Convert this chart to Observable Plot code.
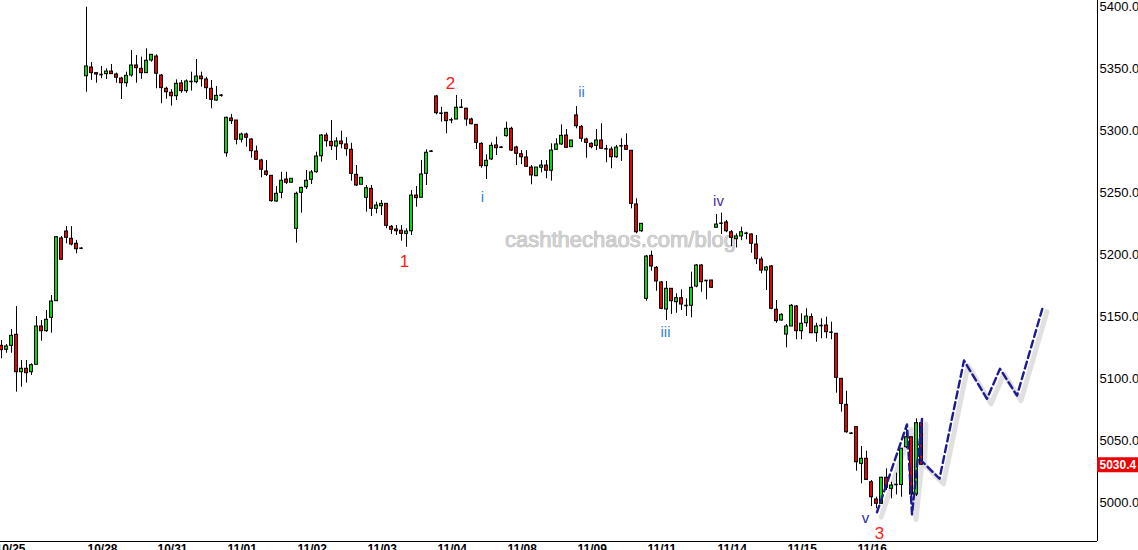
<!DOCTYPE html>
<html><head><meta charset="utf-8">
<script src="https://cdn.jsdelivr.net/npm/d3@7"></script>
<script src="https://cdn.jsdelivr.net/npm/@observablehq/plot@0.6"></script>
<style>html,body{margin:0;padding:0;background:#fff;overflow:hidden}</style>
</head><body><div id="chart"></div>
<script>
// Candle OHLC values (one candle per slot)
const openP = [
5126.3,5123.1,5126.3,5135.2,5105,5107.8,5105,5111,5141.9,5138.1,
5148.9,5162.3,5212.9,5218.5,5212.6,5208.6,5205,5343.7,5350.8,5346.2,
5345.1,5345.4,5347.5,5345.1,5341.9,5338.1,5344.3,5352.4,5349.7,5346.2,
5356.4,5359.6,5344.3,5333.6,5330.4,5327.6,5337.9,5331.7,5339.5,5338.9,
5343.5,5341.1,5333.6,5324.1,5328.4,5281.6,5309.6,5308,5292.5,5296.7,
5292.7,5283,5275.8,5266.9,5263.4,5242.7,5249.7,5260.4,5257.8,5220.7,
5249.7,5254.2,5260.2,5266.3,5279.2,5295.9,5290.8,5287,5291.1,5288.7,
5284.4,5264.2,5256.2,5245.7,5252.9,5236.8,5238.9,5240.8,5222.3,5220.1,
5219.1,5216.6,5218.7,5247.5,5245.7,5265,5283.3,5327.4,5313.9,5314.2,
5308.6,5308.8,5318.7,5317.5,5308.8,5304.5,5289.2,5271.2,5276.6,5287.9,
5286.5,5295.4,5301.3,5286.2,5280.8,5278.2,5270.1,5263.1,5269.9,5271.7,
5267.5,5284.4,5288.7,5295.9,5286.5,5312.1,5302.9,5292.7,5289.2,5287.6,
5291.9,5285.2,5284.6,5278.4,5287.6,5287.6,5283.6,5240.3,5218.7,5164.2,
5198.9,5189.2,5177.4,5155.6,5172.3,5161.5,5164.7,5158.8,5158.6,5174.1,
5191.1,5179,5179,5221.5,5225.2,5225.8,5217.9,5212.3,5214.5,5217.1,
5216.1,5208,5195.9,5187,5190.3,5155.4,5146.7,5135.4,5141.9,5158,
5138.1,5144.5,5149.4,5136.5,5142.7,5142.7,5137.3,5136,5099.7,5078.7,
5055.8,5060.7,5031.1,5035.2,5016.3,5002.4,4998.9,5019.9,5011,5014.5,
5014.1,5044.5,5052.6,5006.4,5063.9];
const highP = [
5130.6,5127.4,5139.5,5158,5114.5,5114.5,5111.8,5149.9,5146.7,5154.8,
5166.9,5214.5,5214.5,5222.5,5222.5,5211.2,5205.5,5399.4,5354.8,5346.2,
5351.6,5349.7,5353.2,5346.2,5342.9,5347,5364.5,5360.4,5359.1,5365.8,
5361,5361,5345.1,5334.9,5332.8,5340.8,5340.3,5340.8,5347,5357.2,
5347,5342.9,5340.3,5335.4,5329,5310.7,5312.9,5308,5297.8,5297.8,
5293.3,5287.3,5276.8,5275.8,5263.4,5254.8,5266.3,5266.3,5261,5250.2,
5254.2,5267.7,5267.7,5282.5,5296.7,5297.8,5308,5294.1,5299.4,5294.1,
5289.7,5271.7,5261.8,5255.6,5255.6,5242.1,5243.5,5240.8,5223.3,5223.3,
5223.3,5220.7,5251.6,5254.8,5275.8,5284.4,5283.8,5328.2,5318.7,5314.2,
5309.9,5328.2,5324.9,5317.9,5309.9,5304.5,5290,5280.4,5290,5294.6,
5287,5306.7,5302.6,5287.3,5283.8,5283.6,5271.7,5270.1,5275.8,5275.8,
5289.2,5293.3,5304.5,5300.8,5291.9,5319.3,5304,5293.8,5290,5300.8,
5305.4,5287.9,5286.5,5287.9,5293.3,5297.3,5283.6,5244.9,5224.7,5199.1,
5202.6,5190.3,5178.2,5178.2,5172.3,5168.3,5171.5,5164.2,5185.7,5191.9,
5191.9,5179,5179,5232.2,5233.3,5227.4,5219.3,5216.6,5222,5217.9,
5216.6,5215.3,5197.8,5190.3,5191.1,5162.9,5152.1,5143.5,5159.6,5158.8,
5152.1,5156.2,5152.1,5144.5,5148.1,5149.4,5145.4,5136,5099.7,5089.7,
5056.3,5060.7,5045.1,5041.3,5017.7,5004.2,5020.3,5027.1,5016.3,5023.6,
5043.3,5062,5052.6,5067.4,5067.4];
const lowP = [
5115.8,5120.3,5120.3,5088.9,5092.9,5096.2,5102.4,5111,5130,5137.3,
5136.5,5162.3,5195.7,5208.6,5206.9,5200.5,5204.5,5330.8,5340.3,5338.1,
5341.7,5341.1,5345.1,5338.1,5325,5334.9,5342.9,5338.1,5341.3,5346.2,
5355,5333.6,5321.5,5325.2,5319.6,5324.1,5330,5330,5331.7,5337.6,
5334.9,5325,5317.5,5323.6,5326.8,5278.4,5304.8,5288.4,5290,5286.5,
5277.6,5276.3,5261.8,5262.9,5242.1,5242.1,5244.9,5256.4,5257.8,5209.1,
5233.3,5252.4,5256.4,5265.5,5274.4,5286.5,5283.8,5275.8,5285.2,5279.2,
5259.1,5254.8,5256.2,5234.1,5230.6,5232.8,5231.4,5220.7,5216.1,5215.3,
5210.7,5205.8,5215.3,5238.1,5245.7,5255.6,5282.8,5312.6,5306.7,5297.3,
5305.4,5308.8,5317.9,5303.4,5304.5,5284.6,5269.5,5260.4,5275.8,5279.8,
5286,5294.6,5283,5271.7,5272.5,5270.1,5256.2,5263.1,5265.8,5261,
5259.1,5284.4,5287.9,5286,5286.5,5301.3,5290.5,5277.6,5285.2,5283.8,
5285.2,5273.9,5269.1,5277.6,5275,5283.8,5236.8,5216.6,5217.9,5162.3,
5186.5,5170.3,5155.4,5146.7,5151.6,5152.6,5154.8,5150,5148.9,5173.1,
5169.5,5163.4,5173.1,5221.5,5216.1,5217.5,5206.4,5205.3,5211.2,5211.8,
5201,5191.9,5184.4,5170.9,5155.4,5144.5,5146.2,5124.7,5141.9,5131.2,
5131.2,5141.3,5136,5129.2,5132,5132,5131.2,5088.1,5072.8,5055.8,
5055.3,5025.2,5015,5017.7,4996.7,4994.9,4998.3,5009.6,5002.9,5006.1,
5004.2,5043.3,5004,5004.8,5030];
const closeP = [
5122.8,5125.8,5134.4,5105,5107.8,5104.2,5110.7,5141.9,5138.1,5147.3,
5162,5213.9,5195.7,5213.4,5208,5204.2,5205,5351.6,5346.2,5345.1,
5345.1,5347.5,5345.4,5342.5,5338.1,5344.1,5352.4,5350.2,5346.2,5356.2,
5361,5345.7,5334.1,5330.8,5327.6,5337.6,5331.7,5339.5,5339.5,5343.5,
5341.3,5334.1,5324.7,5327.9,5328.4,5310.2,5307.5,5292.5,5296.7,5294.1,
5283.3,5276.3,5268.3,5264.2,5243,5248.9,5259.4,5257.8,5261,5248.9,
5253.7,5259.4,5266.1,5279,5295.9,5291.3,5287.3,5291.1,5288.9,5284.9,
5265,5255.6,5261.8,5253.4,5236.8,5239.5,5240.8,5223.1,5219.9,5218.7,
5216.6,5218.5,5247.5,5245.4,5264.5,5282,5283.3,5313.9,5313.9,5307.5,
5308.6,5318.3,5318.7,5308.8,5305,5290,5271.2,5275.5,5287.6,5285.7,
5286.5,5301.3,5283.8,5281.2,5278.4,5270.7,5263.7,5270.1,5271.7,5267.5,
5283.8,5288.7,5295.7,5286,5291.9,5303.4,5293.3,5290,5286.5,5291.9,
5285.2,5285.2,5278.4,5286.2,5287.6,5284.4,5240.8,5217.9,5224.7,5198.3,
5190.3,5178.2,5156.2,5172.3,5162.3,5164.7,5159.6,5158.8,5173.1,5191.1,
5177.6,5179,5173.1,5224.1,5225.2,5218.7,5213.4,5214.5,5217.9,5217.1,
5208.6,5196.2,5187,5189.5,5156.2,5146.2,5151.3,5141.9,5158.6,5138.1,
5144.1,5149.9,5136.5,5141.9,5142.7,5137.3,5137.3,5100.5,5079.5,5056.6,
5055.8,5032.4,5035.2,5018.2,5004.2,4998.9,5019.9,5011.8,5013.6,5014.5,
5043.3,5052.6,5006.4,5063.9,5030.4];

// Day labels and the candle slot where each day starts
const dayLabels = ["10/25","10/28","10/31","11/01","11/02","11/03","11/04","11/08","11/09","11/11","11/14","11/15","11/16"];
const dayStart  = [-1.4,17,31,45,59,73,87,101,115,129,143,157,171];

// Price axis ticks
const priceTicks = [5000,5050,5100,5150,5200,5250,5300,5350,5400];

// Elliott wave labels
const waveText  = ["1","2","3","i","ii","iii","iv","v"];
const waveSlot  = [80.6,89.8,175.6,96.2,116,132.8,143.4,172.8];
const wavePrice = [5194.3,5337.9,4975,5245.9,5330.6,5137,5242.7,4987];

// Projected path (dashed)
const pathSlot  = [175.1,181.1,182.1,184.1,183.8,187.6,192.5,197.1,199.7,203.1,208.3];
const pathPrice = [4992.1,5062.9,4990.3,5067.4,5034.4,5019.1,5114.5,5083.6,5107.8,5086.2,5158];

const lastPrice = 5030.4;
const watermark = "cashthechaos.com/blog";

// ---- build ----
const candles = openP.map((o, i) => ({i, open: o, high: highP[i], low: lowP[i], close: closeP[i]}));
const bodies = candles.filter(d => d.open !== d.close);
const dashes = candles.filter(d => d.open === d.close);
const waves = waveText.map((t, k) => ({t, i: waveSlot[k], p: wavePrice[k]}));
const path = pathSlot.map((s, k) => ({i: s, p: pathPrice[k]}));
const xDomain = [-0.2, 219.2];
const yDomain = [4968.5, 5404.8];
const waveColor = t => /^\d$/.test(t) ? "#ff1a1a" : t === "iv" ? "#4a2aa8" : t === "v" ? "#2a2a9e" : "#3f7fd0";

const chart = Plot.plot({
  width: 1138, height: 550,
  marginLeft: 0, marginRight: 41, marginTop: 0, marginBottom: 9,
  style: {fontFamily: "'Liberation Sans', Arial, sans-serif", fontSize: "12px", background: "#fff", color: "#000"},
  x: {type: "linear", domain: xDomain, label: null},
  y: {type: "linear", domain: yDomain, label: null},
  color: {type: "identity"},
  marks: [
    Plot.text([watermark], {frameAnchor: "top-left", dx: 620, dy: 231, text: d => d, fontSize: 22,
      fill: "#d0d0d0", stroke: "#9a9a9a", strokeWidth: 0.6, textAnchor: "middle"}),
    Plot.line(path, {x: "i", y: "p", stroke: "#d6d6d6", strokeWidth: 5, strokeOpacity: 0.75, dx: 4, dy: 5}),
    Plot.ruleX(candles, {x: "i", y1: "low", y2: "high", stroke: "#000", strokeWidth: 1}),
    Plot.rect(bodies, {x1: d => d.i - 0.3, x2: d => d.i + 0.3, y1: "open", y2: "close",
      fill: d => d.close > d.open ? "#00e000" : "#ee0000", stroke: "#000", strokeWidth: 1}),
    Plot.ruleY(dashes, {x1: d => d.i - 0.35, x2: d => d.i + 0.35, y: "close", stroke: "#000", strokeWidth: 1.6}),
    Plot.line(path, {x: "i", y: "p", stroke: "#1c1c8e", strokeWidth: 2.4, strokeDasharray: "7,4"}),
    Plot.text(waves, {x: "i", y: "p", text: "t", fill: d => waveColor(d.t),
      fontSize: d => /^\d$/.test(d.t) ? 17 : 15}),
    Plot.ruleX([xDomain[1]], {stroke: "#000", strokeWidth: 1}),
    Plot.ruleY([yDomain[0]], {stroke: "#000", strokeWidth: 1}),
    Plot.axisY({anchor: "right", ticks: priceTicks, tickFormat: d => d.toFixed(1), tickSize: 0, tickPadding: 2, fontSize: 13, label: null}),
    Plot.axisX({anchor: "bottom", ticks: dayStart, tickFormat: d => dayLabels[dayStart.indexOf(d)],
      tickSize: 0, tickPadding: 3, textAnchor: "start", dx: 1, fontWeight: "bold", fontSize: 12, label: null}),
    Plot.ruleY([lastPrice], {x1: xDomain[1], x2: xDomain[1] + 10, stroke: "#ee0000", strokeWidth: 15}),
    Plot.text([lastPrice], {x: xDomain[1], y: d => d, text: d => d.toFixed(1), textAnchor: "start", dx: 2,
      fill: "#fff", fontWeight: "bold", fontSize: 12})
  ]
});
document.getElementById("chart").appendChild(chart);
</script>
</body></html>
